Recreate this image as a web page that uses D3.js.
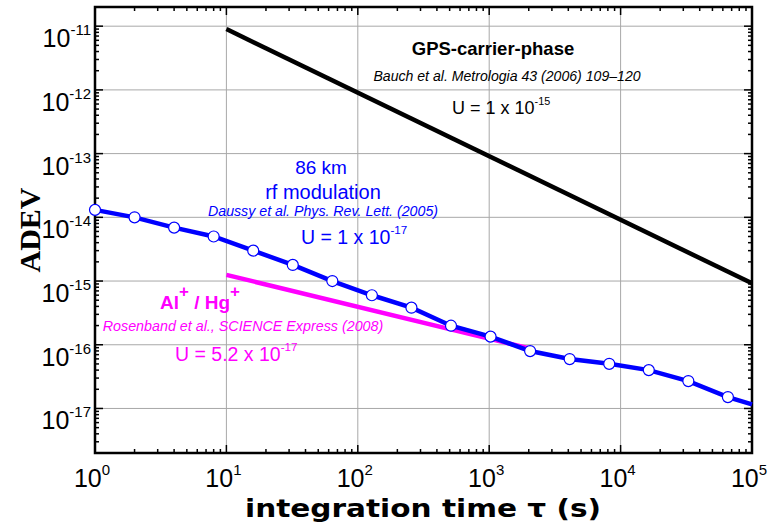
<!DOCTYPE html>
<html><head><meta charset="utf-8">
<script src="https://cdn.jsdelivr.net/npm/d3@7"></script>
<style>body{margin:0;background:#fff}svg{display:block}text{font-family:"Liberation Sans",Arial,sans-serif}</style>
</head><body><svg id="c" width="769" height="526"></svg>
<script>
// ---- data ----
const xTickExps = [0, 1, 2, 3, 4, 5];
const yTickExps = [-11, -12, -13, -14, -15, -16, -17];
const blueTau  = [1, 2, 4, 8, 16, 32, 64, 128, 256, 512, 1024, 2048, 4096, 8192, 16384, 32768, 65536, 100000];
const blueAdev = [1.31e-14, 1.0e-14, 6.9e-15, 5.0e-15, 3.0e-15, 1.79e-15, 1.0e-15, 5.98e-16, 3.82e-16, 1.99e-16, 1.34e-16, 7.96e-17, 5.96e-17, 5.02e-17, 4.0e-17, 2.69e-17, 1.51e-17, 1.16e-17];
const blueMarked = [true, true, true, true, true, true, true, true, true, true, true, true, true, true, true, true, true, false];
const gpsTau  = [10, 100000];
const gpsAdev = [9e-12, 9.2e-16];
const alTau  = [10, 2000];
const alAdev = [1.25e-15, 8.8e-17];

const svg = d3.select("#c");
const L = 95, R = 752, T = 7, B = 453;
const x = d3.scaleLog().domain([1, 1e5]).range([L, R]);
const y = d3.scaleLog().domain([2e-18, 2e-11]).range([B, T]);

// grid
const g = svg.append("g");
xTickExps.forEach(e => g.append("line").attr("x1", x(10**e)).attr("x2", x(10**e)).attr("y1", T).attr("y2", B).attr("stroke", "#a8a8a8").attr("stroke-width", 1));
yTickExps.forEach(e => g.append("line").attr("y1", y(10**e)).attr("y2", y(10**e)).attr("x1", L).attr("x2", R).attr("stroke", "#a8a8a8").attr("stroke-width", 1));

// minor tick values
function minors(scale) {
  const [a, b] = scale.domain();
  const out = [];
  for (let e = Math.floor(Math.log10(a)) ; e <= Math.ceil(Math.log10(b)); e++) {
    for (let k = 2; k <= 9; k++) { const v = k * 10**e; if (v >= a*0.999 && v <= b*1.001) out.push(v); }
  }
  return out;
}
const ax = svg.append("g").attr("stroke", "#000");
const tk = (x1, y1, x2, y2, w) => ax.append("line").attr("x1", x1).attr("y1", y1).attr("x2", x2).attr("y2", y2).attr("stroke-width", w);
minors(x).forEach(v => { tk(x(v), B, x(v), B - 4, 1.5); tk(x(v), T, x(v), T + 4, 1.5); });
xTickExps.forEach(e => { tk(x(10**e), B, x(10**e), B - 8, 1.5); tk(x(10**e), T, x(10**e), T + 8, 1.5); });
minors(y).forEach(v => { tk(L, y(v), L + 4, y(v), 1.5); tk(R, y(v), R - 4, y(v), 1.5); });
yTickExps.forEach(e => { tk(L, y(10**e), L + 8, y(10**e), 1.5); tk(R, y(10**e), R - 8, y(10**e), 1.5); });
svg.append("rect").attr("x", L).attr("y", T).attr("width", R - L).attr("height", B - T).attr("fill", "none").attr("stroke", "#000").attr("stroke-width", 2.5);

// tick labels
function powLabel(parent, px, py, exp, anchor) {
  const t = parent.append("text").attr("x", px).attr("y", py).attr("text-anchor", anchor).attr("fill", "#000");
  t.append("tspan").attr("font-size", 25).text("10");
  t.append("tspan").attr("font-size", 15).attr("dy", -12).text(String(exp));
  return t;
}
yTickExps.forEach(e => powLabel(svg, 91, y(10**e) + 21, e, "end"));
xTickExps.forEach(e => powLabel(svg, x(10**e) - 3, 487, e, "middle"));

// axis titles
svg.append("text").attr("transform", `translate(40,${230}) rotate(-90)`).attr("text-anchor", "middle")
  .style("font-family", "'Liberation Serif','Times New Roman',serif")
  .attr("font-weight", "bold").attr("font-size", 30).text("ADEV");
svg.append("text").attr("x", 245).attr("y", 517).attr("font-weight", "bold")
  .style("font-family", "'DejaVu Sans',sans-serif")
  .attr("font-size", 24).attr("textLength", 356).attr("lengthAdjust", "spacingAndGlyphs").text("integration time τ (s)");

// lines
const line = d3.line().x(d => x(d[0])).y(d => y(d[1]));
svg.append("path").datum(gpsTau.map((t, i) => [t, gpsAdev[i]])).attr("d", line).attr("fill", "none").attr("stroke", "#000").attr("stroke-width", 4.5);
svg.append("path").datum(alTau.map((t, i) => [t, alAdev[i]])).attr("d", line).attr("fill", "none").attr("stroke", "#ff00ff").attr("stroke-width", 4.5);
const blue = blueTau.map((t, i) => [t, blueAdev[i], blueMarked[i]]);
svg.append("path").datum(blue).attr("d", line).attr("fill", "none").attr("stroke", "#0000ff").attr("stroke-width", 4.5);
svg.selectAll("circle.m").data(blue.filter(d => d[2])).enter().append("circle")
  .attr("cx", d => x(d[0])).attr("cy", d => y(d[1])).attr("r", 5.5).attr("fill", "#fff").attr("stroke", "#0000ff").attr("stroke-width", 1.2);

// annotations
function uLabel(px, py, base, exp, color, size) {
  const t = svg.append("text").attr("x", px).attr("y", py).attr("fill", color).attr("font-size", size);
  t.append("tspan").text(base);
  t.append("tspan").attr("font-size", size * 0.6).attr("dy", -size * 0.5).text(exp);
}
svg.append("text").attr("x", 493).attr("y", 55).attr("text-anchor", "middle").attr("font-weight", "bold").attr("font-size", 18.5).text("GPS-carrier-phase");
svg.append("text").attr("x", 507).attr("y", 81).attr("text-anchor", "middle").attr("font-style", "italic").attr("font-size", 14.1).text("Bauch et al. Metrologia 43 (2006) 109–120");
uLabel(452, 114, "U = 1 x 10", "-15", "#000", 18);

svg.append("text").attr("x", 321).attr("y", 174).attr("text-anchor", "middle").attr("fill", "#0000ff").attr("font-size", 19).text("86 km");
svg.append("text").attr("x", 323).attr("y", 199).attr("text-anchor", "middle").attr("fill", "#0000ff").attr("font-size", 20).text("rf modulation");
svg.append("text").attr("x", 323).attr("y", 216).attr("text-anchor", "middle").attr("fill", "#0000ff").attr("font-style", "italic").attr("font-size", 14.2).text("Daussy et al.  Phys. Rev. Lett. (2005)");
uLabel(301, 244, "U = 1 x 10", "-17", "#0000ff", 19.5);

const al = svg.append("text").attr("x", 160).attr("y", 309).attr("fill", "#ff00ff").attr("font-weight", "bold").attr("font-size", 19);
al.append("tspan").text("Al");
al.append("tspan").attr("font-size", 17).attr("dy", -12).text("+");
al.append("tspan").attr("dy", 12).text(" / Hg");
al.append("tspan").attr("font-size", 17).attr("dy", -12).text("+");
svg.append("text").attr("x", 243).attr("y", 331).attr("text-anchor", "middle").attr("fill", "#ff00ff").attr("font-style", "italic").attr("font-size", 14.3).text("Rosenband et al., SCIENCE Express (2008)");
uLabel(175, 361, "U = 5.2 x 10", "-17", "#ff00ff", 19.5);
</script></body></html>
